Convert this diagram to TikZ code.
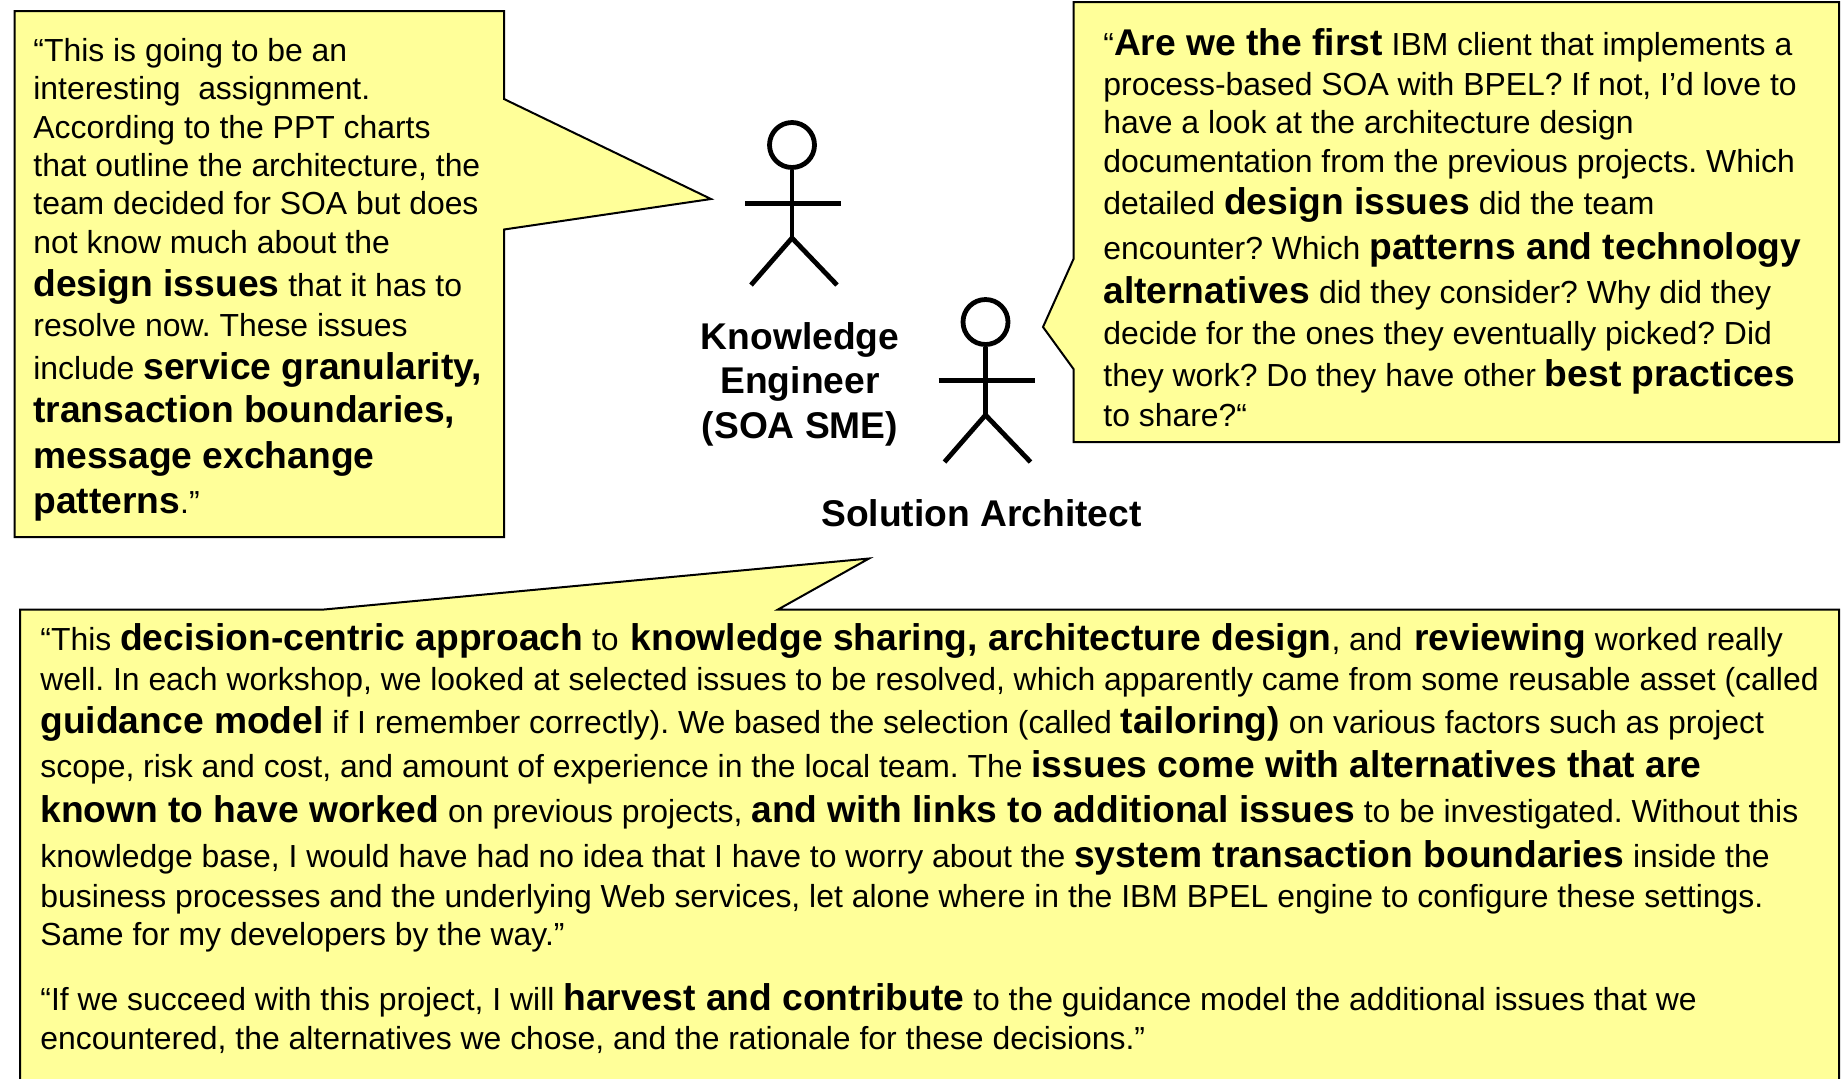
\documentclass[tikz,border=0pt]{standalone}
\usepackage{fontspec}
\setmainfont{Liberation Sans}
\usetikzlibrary{arrows,positioning,shapes}
\definecolor{noteyellow}{HTML}{FFFF99}
\newcommand{\keyterm}[1]{{\fontsize{18.6}{19.2}\selectfont\bfseries #1}}
\tikzset{
    %Define style for the speech balloons
    balloon/.style={
             draw=black, line width=1pt,
             fill=noteyellow,
             line join=miter},
    %Define style for the text inside them
    quotetext/.style={
             anchor=north west,
             inner sep=0pt,
             align=left,
             font=\fontsize{15.95}{19.2}\selectfont\frenchspacing},
    % Define style for the role names
    actorlabel/.style={
             inner sep=0pt,
             align=center,
             font=\fontsize{18.6}{22.2}\selectfont\bfseries},
    actorhead/.style={
             circle,
             draw=black, line width=2.4pt,
             inner sep=0pt,
             minimum size=22.5pt},
    actorline/.style={
             black,
             line width=2.4pt},
    % Define the stick figure
    actor/.pic={
            \node[actorhead] (-head) at (0,0) {};
            \coordinate (-hip) at (0,93);
            \coordinate (-lhand) at (-47,58.5);
            \coordinate (-rhand) at (49,58.5);
            \coordinate (-lfoot) at (-41,140);
            \coordinate (-rfoot) at (45,140);
            \draw[actorline] (-head) -- (-hip);
            \draw[actorline] (-lhand) -- (-rhand);
            \draw[actorline] (-lfoot) -- (-hip) -- (-rfoot);
    }
}
\begin{document}
\begin{tikzpicture}[x=0.5pt,y=-0.5pt]
    \useasboundingbox (0,0) rectangle (1845,1078);
    % balloons
    \draw[balloon] (14.5,11) -- (504,11) -- (504,99) -- (711,199) -- (504,229.5) -- (504,537) -- (14.5,537) -- cycle;
    \draw[balloon] (1073.5,2) -- (1839,2) -- (1839,442) -- (1073.5,442) -- (1073.5,369) -- (1043,327) -- (1073.5,259) -- cycle;
    \draw[balloon] (20,609.5) -- (324,609.5) -- (869,558.5) -- (778,609.5) -- (1839,609.5) -- (1839,1090) -- (20,1090) -- cycle;
    % quotes
    \node[quotetext] (engineerquote) at (33,37.7) {“This is going to be an\\
      interesting~ assignment.\\
      According to the PPT charts\\
      that outline the architecture, the\\
      team decided for SOA but does\\[0.3pt]
      not know much about the\\[2pt]
      \keyterm{design issues} that it has to\\[1pt]
      resolve now. These issues\\[2.3pt]
      include \keyterm{service granularity,}\\[2.4pt]
      \keyterm{transaction boundaries,}\\[3.5pt]
      \keyterm{message exchange}\\[3.6pt]
      \keyterm{patterns}.”};
    \node[quotetext] (architectquote) at (1103,28) {“\keyterm{Are we the first} IBM client that implements a\\[0.8pt]
      process-based SOA with BPEL? If not, I’d love to\\
      have a look at the architecture design\\
      documentation from the previous projects. Which\\[2.2pt]
      detailed \keyterm{design issues} did the team\\[3pt]
      encounter? Which \keyterm{patterns and technology}\\[2.8pt]
      \keyterm{alternatives} did they consider? Why did they\\[1.3pt]
      decide for the ones they eventually picked? Did\\[1.8pt]
      they work? Do they have other \keyterm{best practices}\\[0.8pt]
      to share?“};
    \node[quotetext] (reviewquote) at (40,622.8) {“This \keyterm{decision-centric approach} to\hspace{1.6pt} \keyterm{knowledge sharing, architecture design}, and\hspace{1.6pt} \keyterm{reviewing} worked really\\[0.9pt]
      well. In each workshop, we looked at selected issues to be resolved, which apparently came from some reusable asset (called\\[2.2pt]
      \keyterm{guidance model} if I remember correctly). We based the selection (called \keyterm{tailoring)} on various factors such as project\\[3.1pt]
      scope, risk and cost, and amount of experience in the local team. The \keyterm{issues come with alternatives that are}\\[3pt]
      \keyterm{known to have worked} on previous projects, \keyterm{and with links to additional issues} to be investigated. Without this\\[3.6pt]
      knowledge base, I would have had no idea that I have to worry about the \keyterm{system transaction boundaries} inside the\\[0.7pt]
      business processes and the underlying Web services, let alone where in the IBM BPEL engine to configure these settings.\\
      Same for my developers by the way.”\\[13pt]
      “If we succeed with this project, I will \keyterm{harvest and contribute} to the guidance model the additional issues that we\\[0.5pt]
      encountered, the alternatives we chose, and the rationale for these decisions.”};
    % actors
    \pic (engineer) at (792,145) {actor};
    \pic (architect) at (985.5,322) {actor};
    \node[actorlabel, anchor=north] (engineerlabel) at (800,322) {Knowledge\\Engineer\\(SOA SME)};
    \node[actorlabel, anchor=base] (architectlabel) at (981.5,526) {Solution Architect};
\end{tikzpicture}
\end{document}
